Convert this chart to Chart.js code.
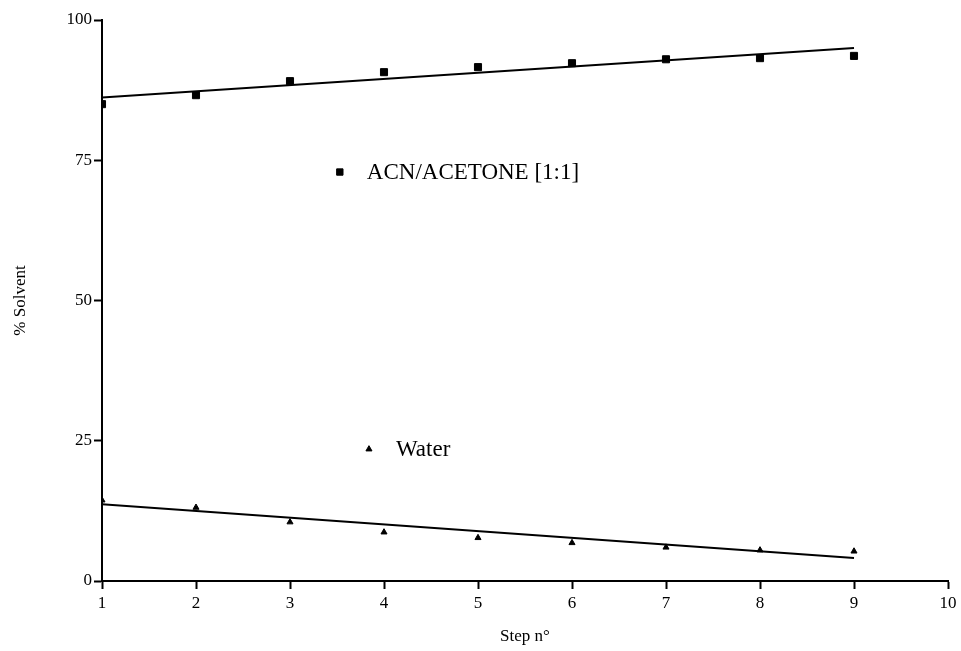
<!DOCTYPE html>
<html>
<head>
<meta charset="utf-8">
<script src="https://cdn.jsdelivr.net/npm/chart.js@4/dist/chart.umd.min.js"></script>
<style>
  html, body { margin: 0; padding: 0; background: #fff; }
  #wrap { width: 961px; height: 651px; }
</style>
</head>
<body>
<div id="wrap"><canvas id="myChart" width="961" height="651"></canvas></div>
<script>
const steps = [1, 2, 3, 4, 5, 6, 7, 8, 9]
const acnAcetone = [85.0, 86.6, 89.1, 90.7, 91.6, 92.3, 93.0, 93.2, 93.6]
const water = [14.4, 13.1, 10.5, 8.7, 7.7, 6.8, 6.0, 5.5, 5.3]

// regression lines, end points at step 1 and step 9
const fitSteps = [1, 9]
const acnFit = [86.2, 95.0]
const waterFit = [13.7, 4.1]

const yTicks = [0, 25, 50, 75, 100]

const seriesLabels = ['ACN/ACETONE [1:1]', 'Water']
const labelSteps = [3.53, 3.84]
const labelValues = [72.9, 23.5]
const labelStyles = ['rect', 'triangle']

const serif = "'Liberation Serif', 'Times New Roman', serif"

function toPoints(xs, ys) {
  return xs.map((x, i) => ({ x: x, y: ys[i] }))
}

// draws the two key entries inside the plot area
const seriesKey = {
  id: 'seriesKey',
  afterDatasetsDraw(chart) {
    const ctx = chart.ctx
    const xs = chart.scales.x
    const ys = chart.scales.y
    ctx.save()
    for (let i = 0; i < seriesLabels.length; ++i) {
      const px = xs.getPixelForValue(labelSteps[i])
      const py = ys.getPixelForValue(labelValues[i])
      ctx.fillStyle = '#000'
      ctx.strokeStyle = '#000'
      ctx.lineWidth = 1
      Chart.helpers.drawPoint(ctx, {
        pointStyle: labelStyles[i],
        radius: i === 0 ? 4.5 : 3.5,
        rotation: 0,
        borderWidth: 1
      }, px, py)
      ctx.font = '23px ' + serif
      ctx.textBaseline = 'middle'
      ctx.textAlign = 'left'
      ctx.fillText(seriesLabels[i], px + 27, py + 1)
    }
    ctx.restore()
  }
}

function initChart() {
  const ctx = document.getElementById('myChart')

  const data = {
    datasets: [
      {
        label: seriesLabels[0],
        data: toPoints(steps, acnAcetone),
        showLine: false,
        pointStyle: 'rect',
        pointRadius: 5,
        backgroundColor: '#000',
        borderColor: '#000'
      },
      {
        label: seriesLabels[1],
        data: toPoints(steps, water),
        showLine: false,
        pointStyle: 'triangle',
        pointRadius: 3.5,
        backgroundColor: '#000',
        borderColor: '#000'
      },
      {
        data: toPoints(fitSteps, acnFit),
        showLine: true,
        pointRadius: 0,
        borderColor: '#000',
        borderWidth: 2
      },
      {
        data: toPoints(fitSteps, waterFit),
        showLine: true,
        pointRadius: 0,
        borderColor: '#000',
        borderWidth: 2
      }
    ]
  }

  const config = {
    type: 'scatter',
    data: data,
    options: {
      responsive: false,
      animation: false,
      layout: {
        padding: { top: 20, right: 13, bottom: 4, left: 10 }
      },
      plugins: {
        legend: { display: false },
        tooltip: { enabled: false }
      },
      scales: {
        x: {
          type: 'linear',
          min: 1,
          max: 10,
          afterFit: (s) => { s.height = 66 },
          ticks: {
            stepSize: 1,
            color: '#000',
            padding: 4,
            font: { family: serif, size: 17 }
          },
          grid: {
            display: true,
            drawOnChartArea: false,
            drawTicks: true,
            tickLength: 8,
            tickColor: '#000',
            tickWidth: 2
          },
          border: { display: true, color: '#000', width: 2 },
          title: {
            display: true,
            text: 'Step n°',
            color: '#000',
            padding: { top: 8, bottom: 0 },
            font: { family: serif, size: 17 }
          }
        },
        y: {
          type: 'linear',
          min: 0,
          max: 100,
          afterFit: (s) => { s.width = 92 },
          afterBuildTicks: (s) => { s.ticks = yTicks.map((v) => ({ value: v })) },
          ticks: {
            color: '#000',
            padding: 2,
            font: { family: serif, size: 17 }
          },
          grid: {
            display: true,
            drawOnChartArea: false,
            drawTicks: true,
            tickLength: 8,
            tickColor: '#000',
            tickWidth: 2
          },
          border: { display: true, color: '#000', width: 2 },
          title: {
            display: true,
            text: '% Solvent',
            color: '#000',
            padding: { top: 0, bottom: 30 },
            font: { family: serif, size: 17 }
          }
        }
      }
    },
    plugins: [seriesKey]
  }
  chart = new Chart(ctx, config)
}

let chart = undefined
initChart()
</script>
</body>
</html>
